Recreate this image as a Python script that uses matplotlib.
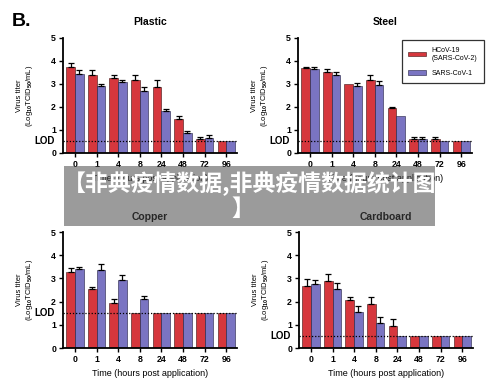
import matplotlib
matplotlib.use("Agg")
import matplotlib.pyplot as plt
import matplotlib.transforms as mtransforms
from matplotlib.patches import Rectangle
import numpy as np

plt.rcParams["font.family"] = ["Liberation Sans", "DejaVu Sans"]
plt.rcParams["font.weight"] = "bold"
plt.rcParams["mathtext.fontset"] = "custom"
plt.rcParams["mathtext.rm"] = "Liberation Sans:bold"
plt.rcParams["mathtext.default"] = "rm"

RED = "#d6373d"
BLUE = "#7a74c2"

hours = ["0", "1", "4", "8", "24", "48", "72", "96"]

plastic_cov2 = [3.72, 3.38, 3.25, 3.18, 2.87, 1.46, 0.63, 0.50]
plastic_cov2_err = [0.18, 0.22, 0.15, 0.20, 0.30, 0.16, 0.05, 0.0]
plastic_cov1 = [3.44, 2.92, 3.08, 2.68, 1.83, 0.85, 0.67, 0.50]
plastic_cov1_err = [0.16, 0.08, 0.11, 0.20, 0.08, 0.10, 0.10, 0.0]

steel_cov2 = [3.69, 3.50, 3.00, 3.18, 1.94, 0.63, 0.63, 0.50]
steel_cov2_err = [0.04, 0.15, 0.0, 0.20, 0.07, 0.07, 0.07, 0.0]
steel_cov1 = [3.66, 3.40, 2.92, 2.96, 1.62, 0.63, 0.50, 0.50]
steel_cov1_err = [0.07, 0.14, 0.11, 0.19, 0.0, 0.07, 0.0, 0.0]

copper_cov2 = [3.27, 2.53, 1.93, 1.50, 1.50, 1.50, 1.50, 1.50]
copper_cov2_err = [0.17, 0.10, 0.20, 0.0, 0.0, 0.0, 0.0, 0.0]
copper_cov1 = [3.42, 3.38, 2.95, 2.10, 1.50, 1.50, 1.50, 1.50]
copper_cov1_err = [0.08, 0.26, 0.18, 0.16, 0.0, 0.0, 0.0, 0.0]

cardboard_cov2 = [2.68, 2.90, 2.08, 1.89, 0.95, 0.50, 0.50, 0.50]
cardboard_cov2_err = [0.28, 0.30, 0.13, 0.32, 0.28, 0.0, 0.0, 0.0]
cardboard_cov1 = [2.78, 2.53, 1.55, 1.08, 0.50, 0.50, 0.50, 0.50]
cardboard_cov1_err = [0.14, 0.29, 0.27, 0.26, 0.0, 0.0, 0.0, 0.0]

panels = [
    ("Plastic", plastic_cov2, plastic_cov2_err, plastic_cov1, plastic_cov1_err, 0.5),
    ("Steel", steel_cov2, steel_cov2_err, steel_cov1, steel_cov1_err, 0.5),
    ("Copper", copper_cov2, copper_cov2_err, copper_cov1, copper_cov1_err, 1.5),
    ("Cardboard", cardboard_cov2, cardboard_cov2_err, cardboard_cov1, cardboard_cov1_err, 0.5),
]

W, H = 500, 391
boxes = [(63, 38, 237, 153), (298, 38, 472, 153),
         (63, 232, 237, 348), (299, 232, 473, 348)]

fig = plt.figure(figsize=(5, 3.91), dpi=100)

x = np.arange(len(hours))
bw = 0.4

for (title, c2, e2, c1, e1, lod), (l, t, r, b) in zip(panels, boxes):
    ax = fig.add_axes([l / W, 1 - b / H, (r - l) / W, (b - t) / H])
    ax.bar(x - bw / 2, c2, bw, color=RED, edgecolor="#3a1010", linewidth=0.4,
           label="HCoV-19\n(SARS-CoV-2)")
    ax.bar(x + bw / 2, c1, bw, color=BLUE, edgecolor="#1e1c40", linewidth=0.4,
           label="SARS-CoV-1")
    for xs, vals, errs in [(x - bw / 2, c2, e2), (x + bw / 2, c1, e1)]:
        errs = np.array(errs)
        m = errs > 0
        ax.errorbar(xs[m], np.array(vals)[m], yerr=[np.zeros(m.sum()), errs[m]],
                    fmt="none", ecolor="black", elinewidth=0.9, capsize=2.2, capthick=0.9)
    ax.axhline(lod, color="black", linestyle=(0, (1, 1.5)), linewidth=0.9, zorder=5)

    ax.set_xlim(-0.55, 7.5)
    ax.set_ylim(0, 5)
    ax.set_xticks(x)
    ax.set_xticklabels(hours, fontsize=6.3)
    ax.set_yticks([0, 1, 2, 3, 4, 5])
    ax.set_yticklabels(["0", "1", "2", "3", "4", "5"], fontsize=6.3)
    ax.tick_params(length=3, width=1, pad=2)
    trans = mtransforms.blended_transform_factory(ax.transAxes, ax.transData)
    ax.text(-0.045, lod, "LOD", transform=trans, ha="right", va="center", fontsize=7)

    for s in ["top", "right"]:
        ax.spines[s].set_visible(False)
    for s in ["left", "bottom"]:
        ax.spines[s].set_linewidth(1.3)

    ax.set_title(title, fontsize=7.5, fontweight="bold", pad=9)
    ax.set_ylabel("Virus titer\n(Log$_{10}$TCID$_{50}$/mL)", fontsize=5.5,
                  linespacing=1.1)
    ax.yaxis.set_label_coords(-0.16, 0.5)
    ax.set_xlabel("Time (hours post application)", fontsize=6.5, labelpad=4)

    if title == "Steel":
        leg = ax.legend(loc="upper right", bbox_to_anchor=(487 / W, 1 - 37 / H),
                        bbox_transform=fig.transFigure, fontsize=5, frameon=True,
                        fancybox=False, edgecolor="black", handlelength=2.6,
                        handleheight=0.6, borderpad=0.9, labelspacing=1.2)
        leg.get_frame().set_linewidth(0.9)
        for txt in leg.get_texts():
            txt.set_fontweight("normal")

fig.text(12 / W, 1 - 21 / H, "B.", fontsize=14, fontweight="bold", va="center")

# semi-transparent banner over the middle
fig.patches.append(Rectangle((64 / W, 1 - 226 / H), (435 - 64) / W, (226 - 166) / H,
                             transform=fig.transFigure, facecolor="#494949",
                             alpha=0.55, edgecolor="none", zorder=10))
fig.text(250 / W, 1 - 184 / H, "【非典疫情数据,非典疫情数据统计图",
         family=["Noto Sans CJK SC", "DejaVu Sans"], fontweight="bold",
         fontsize=16.5, color="white", ha="center", va="center", zorder=11)
fig.text(243 / W, 1 - 209 / H, "】", family=["Noto Sans CJK SC", "DejaVu Sans"],
         fontweight="bold", fontsize=16.5, color="white", ha="center", va="center",
         zorder=11)

fig.savefig("out.png", dpi=100)
